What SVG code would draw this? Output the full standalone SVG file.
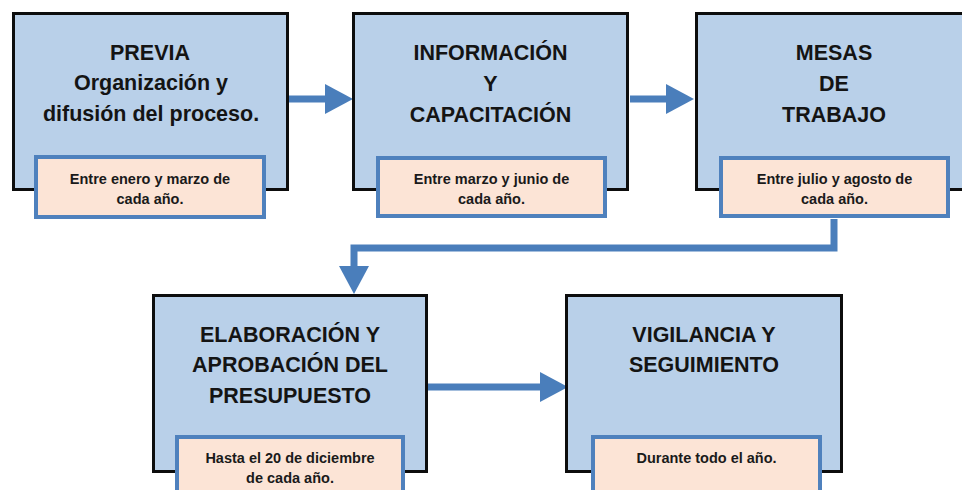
<svg xmlns="http://www.w3.org/2000/svg" width="962" height="490" viewBox="0 0 962 490">
<style>
.box{fill:#b9d0e9;stroke:#0d0d0d;stroke-width:3}
.sub{fill:#fce4d6;stroke:#4f81bd;stroke-width:4}
.t{font-family:"Liberation Sans",Arial,sans-serif;font-weight:bold;font-size:21.5px;fill:#141414;text-anchor:middle}
.s{font-family:"Liberation Sans",Arial,sans-serif;font-weight:bold;font-size:14.5px;fill:#1a1a1a;text-anchor:middle}
.c{fill:none;stroke:#4a7ebb;stroke-width:7}
</style>
<defs>
<marker id="ah" markerUnits="userSpaceOnUse" markerWidth="28" markerHeight="30" refX="0" refY="15" orient="auto" overflow="visible">
<path d="M0,0 L28,15 L0,30 Z" fill="#4a7ebb"/>
</marker>
</defs>
<rect width="962" height="490" fill="#ffffff"/>
<g id="connectors">
<path class="c" d="M289,99 H325" marker-end="url(#ah)"/>
<path class="c" d="M630,99 H666" marker-end="url(#ah)"/>
<path class="c" d="M834,219 V248 H354 V266" marker-end="url(#ah)"/>
<path class="c" d="M428,387 H540" marker-end="url(#ah)"/>
</g>
<g id="n1">
<rect class="box" x="13.5" y="13.5" width="274" height="176"/>
<text class="t" x="150" y="60">PREVIA</text>
<text class="t" x="151" y="90">Organización y</text>
<text class="t" x="151" y="121">difusión del proceso.</text>
<rect class="sub" x="36" y="157" width="228" height="60"/>
<text class="s" x="150" y="184">Entre enero y marzo de</text>
<text class="s" x="150" y="204">cada año.</text>
</g>
<g id="n2">
<rect class="box" x="353.5" y="13.5" width="274" height="176"/>
<text class="t" x="490.5" y="60">INFORMACIÓN</text>
<text class="t" x="490.5" y="91">Y</text>
<text class="t" x="490.5" y="122">CAPACITACIÓN</text>
<rect class="sub" x="378" y="158" width="227" height="58"/>
<text class="s" x="491.5" y="184">Entre marzo y junio de</text>
<text class="s" x="491.5" y="204">cada año.</text>
</g>
<g id="n3">
<rect class="box" x="696.5" y="13.5" width="276" height="176"/>
<text class="t" x="834" y="60">MESAS</text>
<text class="t" x="834" y="91">DE</text>
<text class="t" x="834" y="122">TRABAJO</text>
<rect class="sub" x="721" y="158" width="227" height="58"/>
<text class="s" x="834.5" y="184">Entre julio y agosto de</text>
<text class="s" x="834.5" y="204">cada año.</text>
</g>
<g id="n4">
<rect class="box" x="153.5" y="295.5" width="273" height="176"/>
<text class="t" x="290" y="342">ELABORACIÓN Y</text>
<text class="t" x="290" y="372">APROBACIÓN DEL</text>
<text class="t" x="290" y="403">PRESUPUESTO</text>
<rect class="sub" x="177" y="437" width="226" height="70"/>
<text class="s" x="290" y="463">Hasta el 20 de diciembre</text>
<text class="s" x="290" y="483">de cada año.</text>
</g>
<g id="n5">
<rect class="box" x="566.5" y="295.5" width="275" height="176"/>
<text class="t" x="704" y="342">VIGILANCIA Y</text>
<text class="t" x="704" y="372">SEGUIMIENTO</text>
<rect class="sub" x="593" y="437" width="227" height="70"/>
<text class="s" x="706.5" y="463">Durante todo el año.</text>
</g>
</svg>
